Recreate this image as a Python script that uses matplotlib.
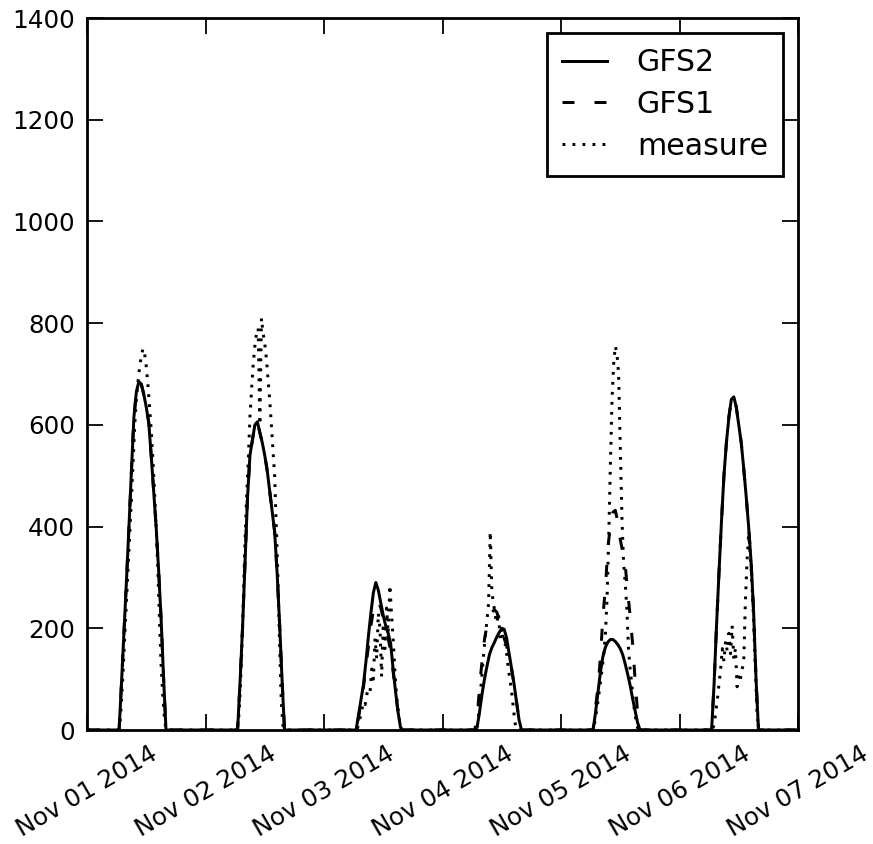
import pandas as pd
import matplotlib
matplotlib.use('Agg')
import matplotlib.pyplot as plt
import matplotlib.dates as mdates

# dias de la serie (de Nov 01 a Nov 06 de 2014)
dias = ['2014-11-01', '2014-11-02', '2014-11-03', '2014-11-04', '2014-11-05', '2014-11-06']

# GFS cada 30 min de 06:00 a 16:00 (fuera de ese tramo vale 0)
gfs2_dia = [
    [0, 0, 95, 195, 295, 400, 510, 615, 665, 685, 680, 660, 635, 605, 540, 470, 400, 315, 220, 105, 0],
    [0, 0, 95, 200, 330, 455, 540, 570, 600, 606, 585, 565, 540, 510, 470, 430, 390, 310, 210, 100, 0],
    [0, 0, 30, 60, 90, 135, 185, 230, 270, 290, 275, 250, 225, 205, 190, 170, 120, 75, 35, 5, 0],
    [0, 0, 5, 35, 70, 100, 125, 148, 162, 172, 183, 192, 200, 198, 180, 150, 120, 90, 55, 20, 0],
    [0, 0, 35, 75, 115, 145, 163, 173, 178, 178, 174, 168, 160, 148, 130, 110, 88, 62, 38, 15, 0],
    [0, 0, 90, 205, 310, 410, 500, 565, 615, 650, 655, 635, 600, 565, 515, 460, 400, 330, 235, 100, 0],
]
gfs1_dia = [
    [0, 0, 95, 195, 295, 400, 510, 615, 665, 685, 680, 660, 635, 605, 540, 470, 400, 315, 220, 105, 0],
    [0, 0, 95, 200, 330, 455, 540, 570, 600, 606, 585, 565, 540, 510, 470, 430, 390, 310, 210, 100, 0],
    [0, 0, 25, 55, 85, 125, 165, 205, 235, 252, 255, 240, 220, 200, 180, 155, 115, 75, 35, 5, 0],
    [0, 0, 20, 85, 135, 178, 205, 222, 232, 236, 232, 215, 195, 180, 165, 145, 120, 90, 55, 20, 0],
    [0, 0, 45, 85, 145, 225, 280, 360, 400, 428, 432, 410, 375, 350, 325, 272, 225, 170, 100, 35, 0],
    [0, 0, 90, 205, 310, 410, 500, 565, 615, 650, 655, 635, 600, 565, 515, 460, 400, 330, 235, 100, 0],
]

# medida cada 20 min de 06:00 a 16:00
medida_dia = [
    [0, 0, 10, 60, 120, 190, 255, 320, 390, 455, 530, 600, 650, 685, 715, 735,
     750, 740, 715, 680, 635, 590, 535, 470, 400, 320, 220, 130, 70, 25, 0],
    [0, 0, 15, 70, 150, 260, 370, 460, 530, 615, 670, 720, 755, 780, 790, 600,
     810, 780, 760, 730, 690, 650, 600, 550, 500, 400, 300, 170, 60, 10, 0],
    [0, 0, 0, 10, 25, 40, 55, 50, 70, 80, 75, 120, 100, 180, 140, 230,
     200, 105, 210, 160, 240, 190, 285, 230, 180, 120, 70, 40, 15, 0, 0],
    [0, 0, 0, 5, 30, 70, 110, 150, 185, 215, 250, 390, 270, 250, 225, 210,
     230, 180, 200, 170, 170, 150, 120, 100, 75, 45, 15, 0, 0, 0, 0],
    [0, 0, 5, 25, 45, 70, 95, 120, 150, 190, 260, 380, 520, 650, 720, 755,
     740, 700, 560, 420, 330, 290, 240, 160, 120, 90, 55, 30, 10, 0, 0],
    [0, 0, 0, 10, 35, 60, 90, 120, 160, 135, 175, 155, 190, 150, 205, 140,
     160, 85, 110, 100, 120, 130, 250, 330, 385, 345, 290, 220, 130, 40, 0],
]


def armar_serie(valores_dia, paso_min):
    tiempos = []
    valores = []
    for dia, vals in zip(dias, valores_dia):
        t0 = pd.Timestamp(dia)
        tiempos.append(t0)
        valores.append(0)
        for i, v in enumerate(vals):
            tiempos.append(t0 + pd.Timedelta(hours=6, minutes=i * paso_min))
            valores.append(v)
    tiempos.append(pd.Timestamp('2014-11-07'))
    valores.append(0)
    return tiempos, valores


def main():
    plt.rcParams['font.family'] = 'DejaVu Sans'
    plt.rcParams['font.size'] = 12.3
    plt.rcParams['lines.scale_dashes'] = False
    plt.rcParams['xtick.direction'] = 'in'
    plt.rcParams['ytick.direction'] = 'in'
    plt.rcParams['xtick.top'] = True
    plt.rcParams['ytick.right'] = True

    t2, g2 = armar_serie(gfs2_dia, 30)
    t1, g1 = armar_serie(gfs1_dia, 30)
    tm, med = armar_serie(medida_dia, 20)

    fig = plt.figure(figsize=(873 / 144, 844 / 144), dpi=144)
    ax = fig.add_axes([87 / 873, 1 - 730 / 844, 711 / 873, 712 / 844])

    ax.plot(t2, g2, color='black', linestyle='-', linewidth=1.5, label='GFS2')
    ax.plot(t1, g1, color='black', linestyle=(0, (6, 10)), linewidth=1.5, label='GFS1')
    ax.plot(tm, med, color='black', linestyle=(0, (1.4, 3.6)), linewidth=1.5, label='measure')

    ax.set_xlim(pd.Timestamp('2014-11-01'), pd.Timestamp('2014-11-07'))
    ax.set_ylim(0, 1400)
    ax.set_yticks(range(0, 1401, 200))
    ax.xaxis.set_major_locator(mdates.DayLocator())
    ax.xaxis.set_major_formatter(mdates.DateFormatter('%b %d %Y'))
    ax.tick_params(which='major', length=8, width=0.9, pad=6, labelsize=12.3)
    plt.setp(ax.get_xticklabels(), rotation=30, ha='center')
    for s in ax.spines.values():
        s.set_linewidth(1.4)

    leg = ax.legend(loc='upper right', fontsize=15, fancybox=False, handlelength=1.5,
                    handletextpad=1.0, labelspacing=0.43, borderpad=0.5, borderaxespad=0.5)
    leg.get_frame().set_edgecolor('black')
    leg.get_frame().set_linewidth(1.4)
    leg.get_frame().set_alpha(None)

    fig.savefig('out.png', dpi=144, facecolor='white')


if __name__ == '__main__':
    main()
